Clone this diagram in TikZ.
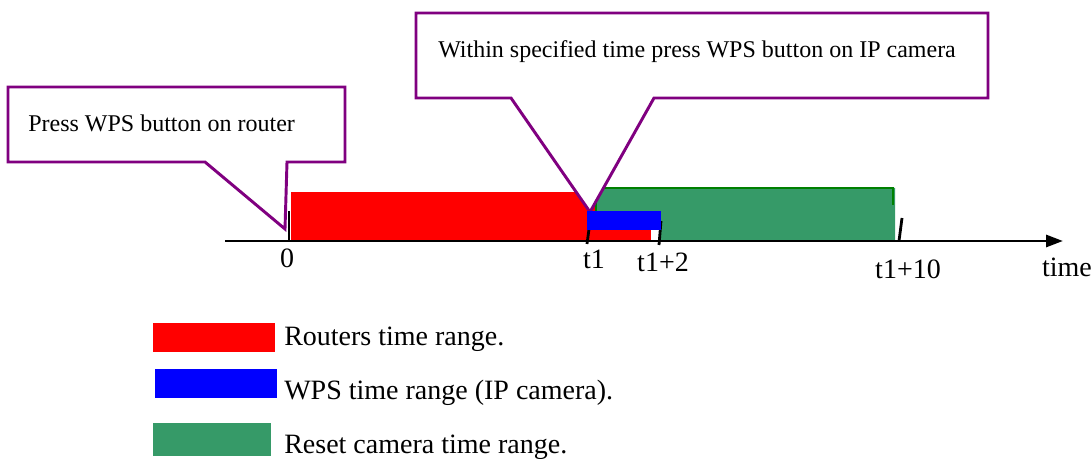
\documentclass[tikz,border=0pt]{standalone}
\usepackage{fontspec}
\setmainfont{Liberation Serif}
\usetikzlibrary{arrows.meta}
\definecolor{cpurple}{RGB}{128,0,128}
\definecolor{cgreen}{RGB}{54,154,104}
\definecolor{cdkgreen}{RGB}{0,128,0}
\definecolor{cred}{RGB}{255,0,0}
\definecolor{cblue}{RGB}{0,0,255}
\tikzset{
  callout/.style={draw=cpurple, line width=2.2pt, fill=white, line join=miter},
  calltext/.style={anchor=base west, inner sep=0pt, font=\fontsize{18}{20}\selectfont},
  axlabel/.style={anchor=base, inner sep=0pt, font=\fontsize{21}{24}\selectfont},
  legtext/.style={anchor=base west, inner sep=0pt, font=\fontsize{21}{24}\selectfont},
  tickline/.style={line width=2.1pt, black},
}
\begin{document}
\begin{tikzpicture}[x=0.75pt,y=-0.75pt]
\useasboundingbox (0,0) rectangle (1092,459);
% bars
\fill[cred] (291,192) rectangle (596,241);
\fill[cred] (596,211) rectangle (651,241);
\fill[cgreen] (596,188) -- (895,188) -- (895,241) -- (660,241) -- (660,211) -- (596,211) -- cycle;
\draw[cdkgreen, line width=2pt] (596,211) -- (596,188) -- (893,188) -- (893,205);
% axis
\coordinate (axs) at (225,241);
\coordinate (axe) at (1063,241);
\draw[line width=2.2pt, -{Triangle[length=12.75pt,width=9pt]}] (axs) -- (axe);
% ticks
\draw[tickline] (289,211) -- (289,241);
\draw[tickline] (589,229) -- (587,244);
\draw[tickline] (661,221) -- (659,245);
\draw[tickline] (902,218) -- (899,241);
% axis labels
\node[axlabel] (l0) at (287,268) {0};
\node[axlabel] (l1) at (594,269) {t1};
\node[axlabel] (l2) at (663,272) {t1+2};
\node[axlabel] (l3) at (908,279) {t1+10};
\node[axlabel] (l4) at (1067,277) {time};
% callout 1
\draw[callout] (8,87) -- (345,87) -- (345,162) -- (287,162) -- (285,229) -- (205,162) -- (8,162) -- cycle;
\node[calltext] (c1) at (28,132) {Press WPS button on router};
% callout 2
\draw[callout] (416,13) -- (988,13) -- (988,98) -- (654,98) -- (590,212) -- (511,98) -- (416,98) -- cycle;
\node[calltext] (c2) at (438,58) {Within specified time press WPS button on IP camera};
% blue bar drawn over the callout tip
\fill[cblue] (587,211) rectangle (661,230);
% legend
\fill[cred] (153,323) rectangle (275,352);
\node[legtext] (g1) at (284,346) {Routers time range.};
\fill[cblue] (155,369) rectangle (277,398);
\node[legtext] (g2) at (284,400) {WPS time range (IP camera).};
\fill[cgreen] (153,423) rectangle (271,456);
\node[legtext] (g3) at (284,453) {Reset camera time range.};
\end{tikzpicture}
\end{document}
